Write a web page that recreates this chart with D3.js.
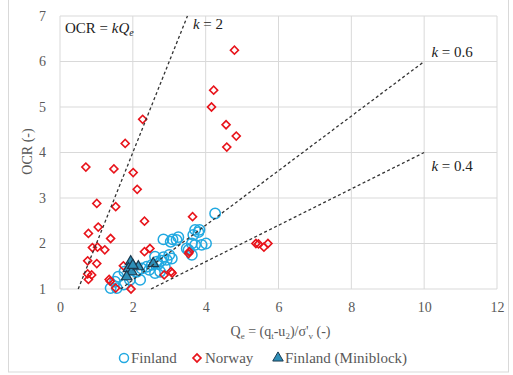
<!DOCTYPE html>
<html>
<head>
<meta charset="utf-8">
<script src="https://cdn.jsdelivr.net/npm/d3@7"></script>
<style>
  body { margin: 0; background: #fff; }
  svg text { font-family: "Liberation Serif", "Times New Roman", "DejaVu Serif", serif; }
</style>
</head>
<body>
<div id="chart"></div>
<script>
// data
const finland = [
  [4.26, 2.66], [3.71, 2.30], [3.83, 2.30], [3.80, 2.25], [3.66, 2.19], [4.01, 2.0], [3.89, 1.97],
  [3.71, 1.97], [3.62, 2.0], [3.48, 1.89], [3.53, 1.86], [3.62, 1.75], [3.25, 2.14], [3.09, 2.09],
  [2.84, 2.09], [3.04, 2.04], [3.20, 2.08], [2.84, 1.70], [2.93, 1.64], [2.66, 1.60], [2.52, 1.53],
  [2.38, 1.49], [2.24, 1.45], [2.11, 1.38], [2.20, 1.20], [1.92, 1.20], [1.60, 1.27], [1.51, 1.16],
  [1.39, 1.02], [1.56, 1.02], [2.75, 1.38], [2.88, 1.49], [1.77, 1.38], [2.61, 1.71], [3.07, 1.67],
  [3.00, 1.75], [2.70, 1.55], [2.45, 1.42], [1.75, 1.10], [2.78, 1.62], [2.61, 1.35]
];
const norway = [
  [4.79, 6.25], [4.22, 5.37], [4.16, 5.0], [4.56, 4.61], [4.84, 4.36], [4.58, 4.12], [2.27, 4.73],
  [1.79, 4.2], [0.71, 3.68], [1.48, 3.64], [2.01, 3.56], [2.12, 3.19], [1.01, 2.88], [1.53, 2.81],
  [2.32, 2.49], [1.05, 2.36], [3.64, 2.59], [0.78, 2.22], [1.39, 2.11], [0.89, 1.91], [1.03, 1.92],
  [1.23, 1.86], [2.32, 1.82], [2.47, 1.89], [0.76, 1.62], [1.01, 1.56], [3.53, 1.78], [3.55, 1.82],
  [1.74, 1.51], [0.76, 1.33], [0.87, 1.31], [0.78, 1.21], [1.35, 1.21], [1.38, 1.17], [1.53, 1.02],
  [1.95, 1.0], [2.86, 1.31], [3.05, 1.38], [3.08, 1.35], [5.38, 2.0], [5.45, 1.99], [5.6, 1.92],
  [5.71, 2.0]
];
const miniblock = [
  [1.94, 1.60], [1.88, 1.45], [1.97, 1.38], [2.15, 1.49], [2.56, 1.56], [1.83, 1.27], [2.0, 1.52]
];
const kValues = [2, 0.6, 0.4];
const xTicks = [0, 2, 4, 6, 8, 10, 12];
const yTicks = [1, 2, 3, 4, 5, 6, 7];

const width = 513, height = 375;
const margin = { left: 60, right: 16, top: 16, bottom: 86 };
const serif = "'Liberation Serif', 'Times New Roman', serif";

const svg = d3.select("#chart").append("svg")
  .attr("width", width)
  .attr("height", height);

// chart frame
svg.append("rect")
  .attr("x", 8.5).attr("y", -2)
  .attr("width", 500).attr("height", 374)
  .attr("fill", "#fff").attr("stroke", "#d9d9d9");

const x = d3.scaleLinear().domain([0, 12]).range([margin.left, width - margin.right]);
const y = d3.scaleLinear().domain([1, 7]).range([height - margin.bottom, margin.top]);

// gridlines
svg.append("g")
  .selectAll("line.v")
  .data(xTicks)
  .enter().append("line")
    .attr("x1", d => x(d)).attr("x2", d => x(d))
    .attr("y1", y(7)).attr("y2", y(1))
    .attr("stroke", "#d9d9d9");
svg.append("g")
  .selectAll("line.h")
  .data(yTicks)
  .enter().append("line")
    .attr("x1", x(0)).attr("x2", x(12))
    .attr("y1", d => y(d)).attr("y2", d => y(d))
    .attr("stroke", "#d9d9d9");

// axes (labels only, Excel style)
const xAxis = svg.append("g")
  .attr("transform", "translate(0," + y(1) + ")")
  .call(d3.axisBottom(x).tickValues(xTicks).tickFormat(d3.format("d")).tickSize(0).tickPadding(13));
xAxis.select(".domain").remove();
xAxis.selectAll("text").attr("font-size", 14).attr("fill", "#595959")
  .style("font-family", serif);

const yAxis = svg.append("g")
  .attr("transform", "translate(" + x(0) + ",0)")
  .call(d3.axisLeft(y).tickValues(yTicks).tickFormat(d3.format("d")).tickSize(0).tickPadding(14));
yAxis.select(".domain").remove();
yAxis.selectAll("text").attr("font-size", 14).attr("fill", "#595959")
  .style("font-family", serif);

// axis titles
const xt = svg.append("text")
  .attr("x", (x(0) + x(12)) / 2 + 2).attr("y", 336)
  .attr("text-anchor", "middle").attr("font-size", 14).attr("fill", "#595959");
xt.append("tspan").text("Q");
xt.append("tspan").text("e").attr("font-size", 9).attr("dy", 3);
xt.append("tspan").text(" = (q").attr("dy", -3);
xt.append("tspan").text("t").attr("font-size", 9).attr("dy", 3);
xt.append("tspan").text("-u").attr("dy", -3);
xt.append("tspan").text("2").attr("font-size", 9).attr("dy", 3);
xt.append("tspan").text(")/σ'").attr("dy", -3);
xt.append("tspan").text("v").attr("font-size", 9).attr("dy", 3);
xt.append("tspan").text(" (-)").attr("dy", -3);

svg.append("text")
  .attr("transform", "translate(32," + (y(4) - 1) + ")rotate(-90)")
  .attr("text-anchor", "middle").attr("font-size", 14).attr("fill", "#595959")
  .text("OCR (-)");

// markers
const diamond = d3.symbol().type(d3.symbolSquare).size(32);
const tri = d3.symbol().type(d3.symbolTriangle).size(48);

svg.append("g")
  .selectAll("circle")
  .data(finland)
  .enter().append("circle")
    .attr("cx", d => x(d[0])).attr("cy", d => y(d[1]))
    .attr("r", 5.2)
    .attr("fill", "none").attr("stroke", "#22a9e1").attr("stroke-width", 1.5);

svg.append("g")
  .selectAll("path")
  .data(norway)
  .enter().append("path")
    .attr("d", diamond)
    .attr("transform", d => "translate(" + x(d[0]) + "," + y(d[1]) + ")rotate(45)")
    .attr("fill", "none").attr("stroke", "#e8141b").attr("stroke-width", 1.6);

svg.append("g")
  .selectAll("path")
  .data(miniblock)
  .enter().append("path")
    .attr("d", tri)
    .attr("transform", d => "translate(" + x(d[0]) + "," + y(d[1]) + ")")
    .attr("fill", "#2e8fb8").attr("stroke", "#1b3a50").attr("stroke-width", 1.2);

// OCR = k Qe lines
const line = d3.line().x(d => x(d[0])).y(d => y(d[1]));
kValues.forEach(k => {
  const x0 = 1 / k;
  const x1 = Math.min(10, 7 / k);
  svg.append("path")
    .attr("d", line([[x0, 1], [x1, k * x1]]))
    .attr("fill", "none").attr("stroke", "#333")
    .attr("stroke-width", 1.3).attr("stroke-dasharray", "3,2.5");
});

// labels for the lines
const kLabels = [
  { k: "2", px: x(3.65), py: y(6.72) },
  { k: "0.6", px: x(10.2), py: y(6.1) },
  { k: "0.4", px: x(10.2), py: y(3.6) }
];
kLabels.forEach(l => {
  const t = svg.append("text").attr("x", l.px).attr("y", l.py)
    .attr("font-size", 15).attr("fill", "#222");
  t.append("tspan").text("k").attr("font-style", "italic");
  t.append("tspan").text(" = " + l.k);
});

const eq = svg.append("text").attr("x", x(0) + 5).attr("y", y(6.63))
  .attr("font-size", 15).attr("fill", "#222");
eq.append("tspan").text("OCR = ");
eq.append("tspan").text("kQ").attr("font-style", "italic");
eq.append("tspan").text("e").attr("font-style", "italic").attr("font-size", 10).attr("dy", 3);

// legend
const lg = svg.append("g").attr("transform", "translate(0,358)");
lg.append("circle").attr("cx", 124).attr("cy", 0).attr("r", 4.5)
  .attr("fill", "none").attr("stroke", "#22a9e1").attr("stroke-width", 1.5);
lg.append("text").attr("x", 131).attr("y", 5).attr("font-size", 15).attr("fill", "#595959").text("Finland");
lg.append("path").attr("d", diamond).attr("transform", "translate(197,0)rotate(45)")
  .attr("fill", "none").attr("stroke", "#e8141b").attr("stroke-width", 1.6);
lg.append("text").attr("x", 205).attr("y", 5).attr("font-size", 15).attr("fill", "#595959").text("Norway");
lg.append("path").attr("d", tri).attr("transform", "translate(278,0)")
  .attr("fill", "#2e8fb8").attr("stroke", "#1b3a50").attr("stroke-width", 1);
lg.append("text").attr("x", 285).attr("y", 5).attr("font-size", 15).attr("fill", "#595959").text("Finland (Miniblock)");
</script>
</body>
</html>
